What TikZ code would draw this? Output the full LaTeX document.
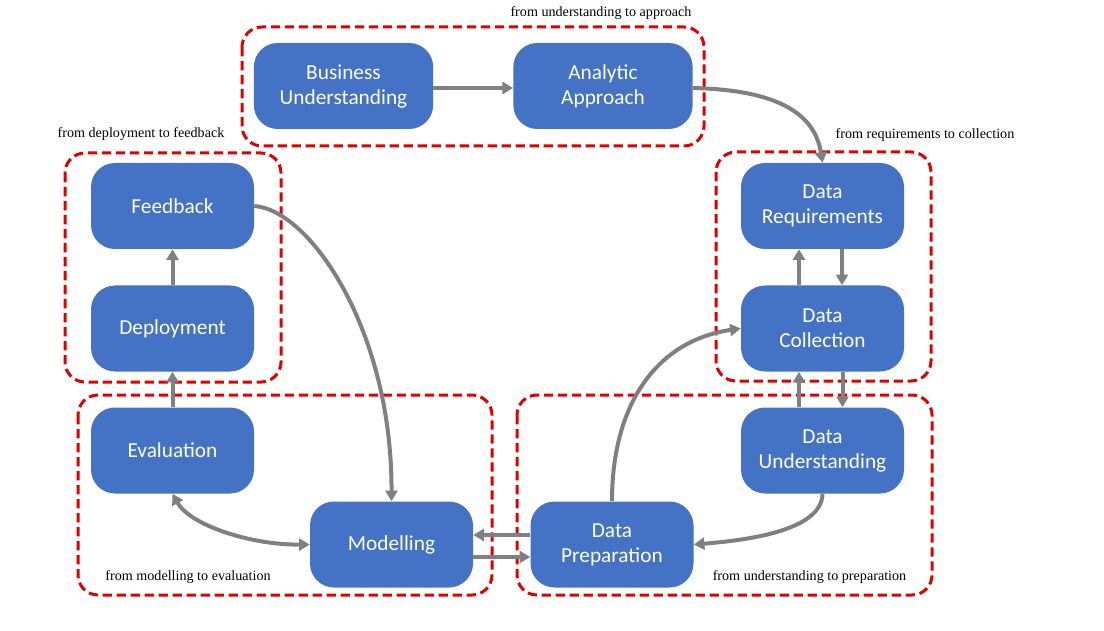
\documentclass[tikz,border=0pt]{standalone}
\usepackage{fontspec}
\setmainfont{Liberation Serif}
\newfontfamily\boxfont{Carlito}
\usetikzlibrary{arrows.meta,calc}
\definecolor{boxblue}{HTML}{4472C4}
\definecolor{linegray}{HTML}{808080}
\definecolor{grpred}{HTML}{E00000}
\begin{document}
\begin{tikzpicture}[x=0.75pt,y=-0.75pt,
  box/.style={fill=boxblue, rounded corners=18pt, text=white,
    font=\boxfont\fontsize{16}{18.75}\selectfont, align=center,
    minimum height=64.5pt, minimum width=122.25pt, inner sep=0pt},
  widebox/.style={box, minimum width=134.5pt},
  grp/.style={draw=grpred, line width=2.25pt, dash pattern=on 7pt off 3.5pt, rounded corners=15pt},
  conn/.style={draw=linegray, line width=3pt, -{Triangle[length=8pt,width=9pt]}},
  lbl/.style={font=\fontsize{10.6}{12}\selectfont, inner sep=0pt}
]
\useasboundingbox (0,0) rectangle (1104,631);

% groups
\draw[grp] (242,27) rectangle (704,146);
\draw[grp] (65,153) rectangle (281,382);
\draw[grp] (716,152) rectangle (931,381);
\draw[grp] (78,395) rectangle (492,595);
\draw[grp] (517,395) rectangle (932,595);

% group labels
\node[lbl] (l1) at (601,13) {from understanding to approach};
\node[lbl] (l2) at (141,134) {from deployment to feedback};
\node[lbl] (l3) at (925,135) {from requirements to collection};
\node[lbl] (l4) at (188,577) {from modelling to evaluation};
\node[lbl] (l5) at (809.5,577) {from understanding to preparation};

% boxes
\node[widebox] (BU) at (343.5,86) {Business\\Understanding};
\node[widebox] (AA) at (603,86) {Analytic\\Approach};
\node[box] (FB) at (172.5,206) {Feedback};
\node[box] (DEP) at (172.5,328.5) {Deployment};
\node[box] (DR) at (822.5,206) {Data\\Requirements};
\node[box] (DC) at (822.5,328.5) {Data\\Collection};
\node[box] (EV) at (172.5,450.5) {Evaluation};
\node[box] (MOD) at (391.5,544.5) {Modelling};
\node[box] (DU) at (822.5,450.5) {Data\\Understanding};
\node[box] (DP) at (612,544.5) {Data\\Preparation};

% connectors
\draw[conn] ($(BU.east)+(0,2)$) -- ($(AA.west)+(0,2)$);
\draw[conn] ($(AA.east)+(0,2)$) .. controls (780,90) and (815,115) .. (DR.north);
\draw[conn] ($(DR.south)+(19.5,0)$) -- ($(DC.north)+(19.5,0)$);
\draw[conn] ($(DC.north)+(-23.5,0)$) -- ($(DR.south)+(-23.5,0)$);
\draw[conn] ($(DC.south)+(20,0)$) -- ($(DU.north)+(20,0)$);
\draw[conn] ($(DU.north)+(-23.5,0)$) -- ($(DC.south)+(-23.5,0)$);
\draw[conn] (DU.south) .. controls (822,530) and (750,540) .. (DP.east);
\draw[conn] (DP.north) .. controls (612,400) and (660,340) .. (DC.west);
\draw[conn] ($(DP.west)+(0,-9.5)$) -- ($(MOD.east)+(0,-9.5)$);
\draw[conn] ($(MOD.east)+(0,12.5)$) -- ($(DP.west)+(0,12.5)$);
\draw[draw=linegray, line width=3pt, {Triangle[length=8pt,width=9pt]}-{Triangle[length=8pt,width=9pt]}]
  (EV.south) .. controls (190,525) and (250,545) .. (MOD.west);
\draw[conn] (EV.north) -- (DEP.south);
\draw[conn] (DEP.north) -- (FB.south);
\draw[conn] (FB.east) .. controls (310,210) and (392,330) .. (MOD.north);
\end{tikzpicture}
\end{document}
